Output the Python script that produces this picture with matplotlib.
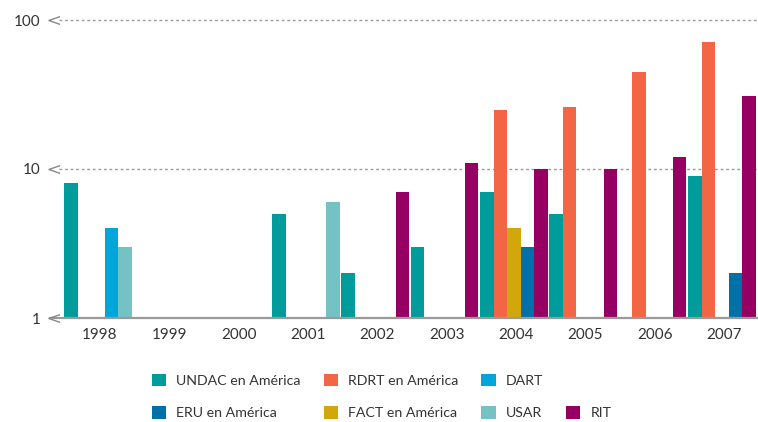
import numpy as np
import matplotlib.pyplot as plt
from matplotlib.path import Path
from matplotlib.patches import Patch

plt.rcParams["font.family"] = ["Lato", "DejaVu Sans"]

# -----------------------
# Data (log scale counts)
# -----------------------
years = ["1998", "1999", "2000", "2001", "2002", "2003", "2004", "2005", "2006", "2007"]

undac = [8, 0, 0, 5, 2, 3, 7, 5, 0, 9]
rdrt = [0, 0, 0, 0, 0, 0, 25, 26, 45, 71]
dart = [4, 0, 0, 0, 0, 0, 0, 0, 0, 0]
eru = [0, 0, 0, 0, 0, 0, 3, 0, 0, 2]
fact = [0, 0, 0, 0, 0, 0, 4, 0, 0, 0]
usar = [3, 0, 0, 6, 0, 0, 0, 0, 0, 0]
rit = [0, 0, 0, 0, 7, 11, 10, 10, 12, 31]

labels = ["UNDAC en América", "RDRT en América", "DART", "ERU en América",
          "FACT en América", "USAR", "RIT"]
values = [undac, rdrt, dart, eru, fact, usar, rit]

# -----------------------
# Style / layout
# -----------------------
colors = ["#009b9b", "#f26645", "#00a6da", "#0070a8", "#d2a70b", "#74c2c4", "#960062"]
slots = [0, 1, 3, 3, 2, 4, 4]  # position of each series inside a year cluster
BAR_W = 0.195
GRID_C = "#9a9a9a"
TEXT_C = "#333333"

fig = plt.figure(figsize=(7.58, 4.22), dpi=100)
ax = fig.add_axes([50 / 758, 1 - 318 / 422, 708 / 758, 298 / 422])

x = np.arange(len(years))
handles = []
for vals, slot, col, lab in zip(values, slots, colors, labels):
    v = np.array(vals, dtype=float)
    keep = v > 0
    offset = (slot - 2) * BAR_W - 0.03
    # bars start at the log-axis floor (1)
    ax.bar(x[keep] + offset, v[keep] - 1, width=BAR_W, bottom=1, color=col,
           linewidth=0, zorder=2)
    handles.append(Patch(facecolor=col, edgecolor="none", label=lab))

ax.set_yscale("log")
ax.set_ylim(1, 100)
ax.set_xlim(-0.72, 9.49)

for s in ax.spines.values():
    s.set_visible(False)

# gridlines and base axis
ax.axhline(1, color=GRID_C, lw=1.6, zorder=3, clip_on=False)
for yv in [10, 100]:
    ax.axhline(yv, xmin=0.013, color=GRID_C, lw=1.0, ls=(0, (2, 2)), zorder=1,
               clip_on=False)

# chevron tick marks
chev = Path([(1, 0.7), (-1, 0), (1, -0.7)], [Path.MOVETO, Path.LINETO, Path.LINETO])
ax.plot([0.005] * 3, [1, 10, 100], transform=ax.get_yaxis_transform(),
        marker=chev, ms=8, mfc="none", mec="#888888", mew=1.0, ls="none",
        clip_on=False, zorder=4)

ax.set_yticks([1, 10, 100])
ax.set_yticklabels(["1", "10", "100"])
ax.yaxis.set_minor_locator(plt.NullLocator())
ax.set_xticks(x)
ax.set_xticklabels(years)
ax.tick_params(axis="y", length=0, pad=7, labelsize=11, labelcolor=TEXT_C)
ax.tick_params(axis="x", length=0, pad=7, labelsize=11, labelcolor=TEXT_C)

# legend: 2 rows, row 1 has 3 items, row 2 has 4
blank = Patch(facecolor="none", edgecolor="none", label="")
order = [handles[0], handles[3], handles[1], handles[4], handles[2], handles[5],
         blank, handles[6]]
fig.legend(handles=order, labels=[h.get_label() for h in order], ncol=4,
           loc="upper left", bbox_to_anchor=(146 / 758, 1 - 368 / 422),
           frameon=False, fontsize=10.2, handlelength=1.0, handleheight=1.0,
           handletextpad=0.75, columnspacing=1.6, labelspacing=1.35,
           labelcolor=TEXT_C, borderaxespad=0)

fig.savefig("out.png", dpi=100)
